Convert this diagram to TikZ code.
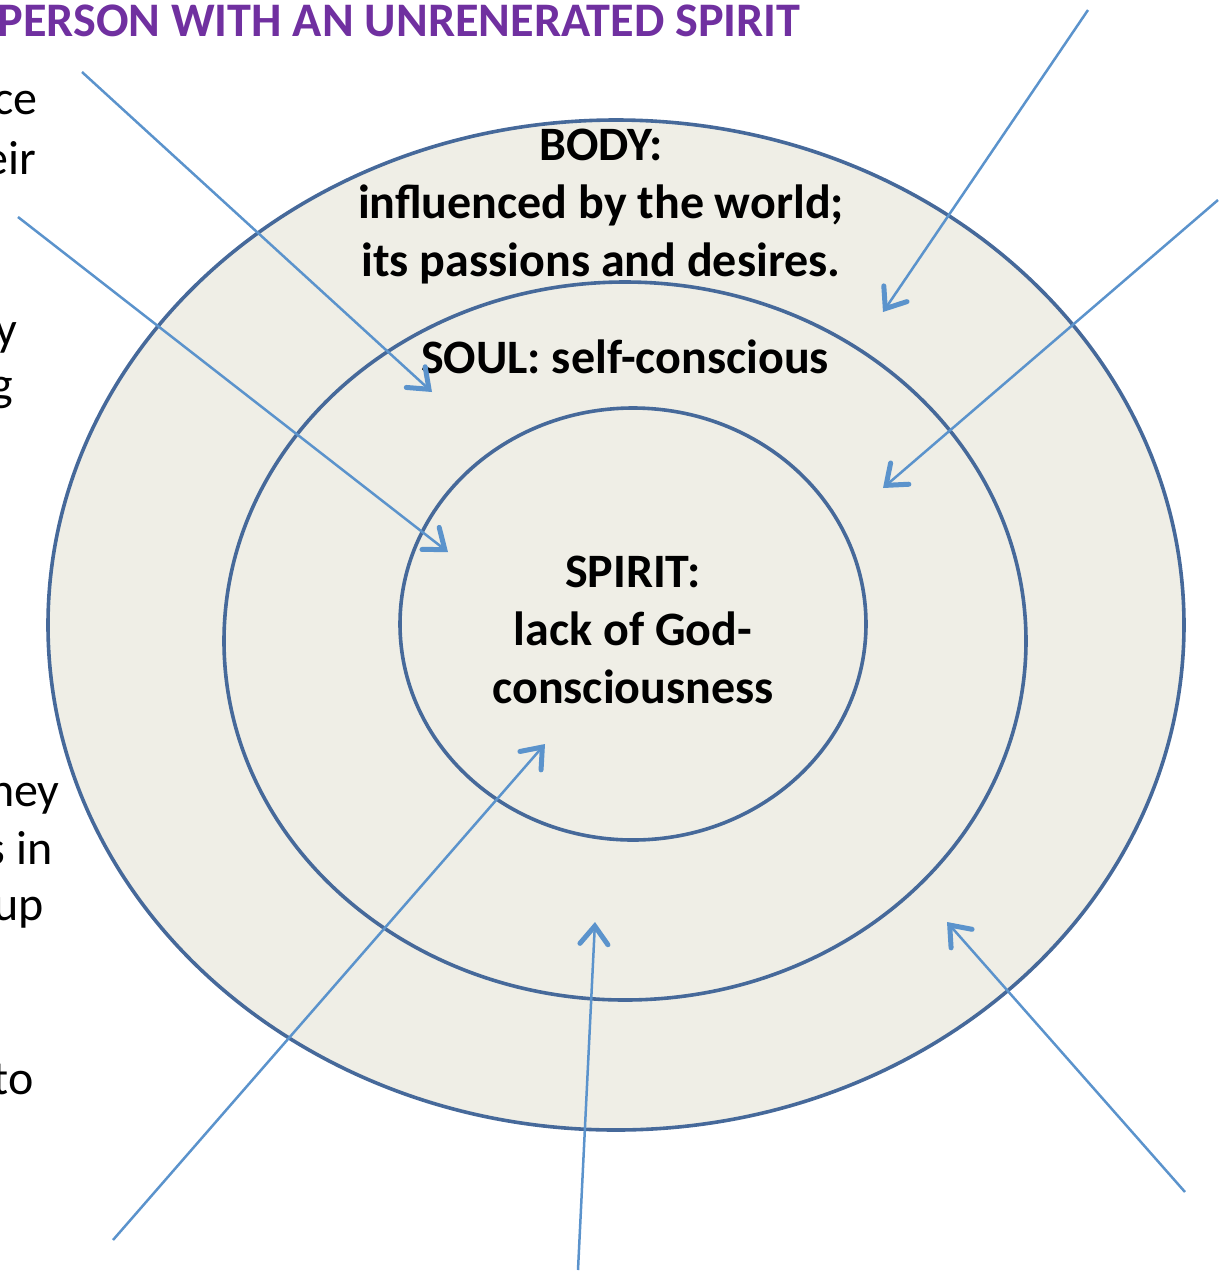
\documentclass[tikz,border=0pt]{standalone}
\usepackage{fontspec}
\setmainfont{Carlito}
\usetikzlibrary{shapes.geometric,arrows.meta}

\definecolor{ringfill}{HTML}{EFEEE6}
\definecolor{ringline}{HTML}{46699A}
\definecolor{arrowblue}{HTML}{5B93CC}
\definecolor{titlepurple}{HTML}{7030A0}

\tikzset{
    ring/.style={ellipse, draw=ringline, fill=ringfill, line width=1.8pt, inner sep=0pt},
    layertext/.style={font=\bfseries\fontsize{24}{29}\selectfont, align=center, inner sep=0pt},
    cuttext/.style={font=\fontsize{24}{29}\selectfont, anchor=east, inner sep=0pt},
    pointer/.style={draw=arrowblue, line width=1.25pt,
        -{Straight Barb[length=9pt, width=14pt, line width=2.5pt, line cap=round]}},
}

\begin{document}
\begin{tikzpicture}[x=0.5pt, y=-0.5pt]
    \useasboundingbox (0,0) rectangle (1224,1271);

    % rings
    \node[ring, minimum width=568pt, minimum height=505pt] (body) at (616,625) {};
    \node[ring, minimum width=401pt, minimum height=359pt] (soul) at (625,641) {};
    \node[ring, minimum width=233pt, minimum height=216pt] (spirit) at (633,624) {};

    % title
    \node[font=\bfseries\fontsize{24.1}{30}\selectfont, text=titlepurple, anchor=west, inner sep=0pt]
        (title) at (-3,21) {PERSON WITH AN UNRENERATED SPIRIT};

    % layer texts
    \node[layertext] (bodytext) at (601,207) {BODY:\\ influenced by the world;\\ its passions and desires.};
    \node[layertext] (soultext) at (625,357) {SOUL: self-conscious};
    \node[layertext] (spirittext) at (633,630) {SPIRIT:\\ lack of God-\\ consciousness};

    % text cut off at the left edge
    \node[cuttext] (cutA) at (38,103) {ce};
    \node[cuttext] (cutB) at (37,158) {eir};
    \node[cuttext] (cutC) at (18,338) {y};
    \node[cuttext] (cutD) at (13,393) {g};
    \node[cuttext] (cutE) at (60,799) {ney};
    \node[cuttext] (cutF) at (53,848) {s in};
    \node[cuttext] (cutG) at (44,913) {up};
    \node[cuttext] (cutH) at (34,1079) {to};

    % arrow ends
    \coordinate (s1) at (82,72);    \coordinate (e1) at (432,392);
    \coordinate (s2) at (18,217);   \coordinate (e2) at (448,552);
    \coordinate (s3) at (1088,10);  \coordinate (e3) at (883,312);
    \coordinate (s4) at (1218,200); \coordinate (e4) at (883,488);
    \coordinate (s5) at (113,1240); \coordinate (e5) at (545,744);
    \coordinate (s6) at (578,1270); \coordinate (e6) at (595,922);
    \coordinate (s7) at (1185,1192);\coordinate (e7) at (947,922);

    \begin{scope}[pointer]
        \draw (s1) -- (e1);
        \draw (s2) -- (e2);
        \draw (s3) -- (e3);
        \draw (s4) -- (e4);
        \draw (s5) -- (e5);
        \draw (s6) -- (e6);
        \draw (s7) -- (e7);
    \end{scope}
\end{tikzpicture}
\end{document}
